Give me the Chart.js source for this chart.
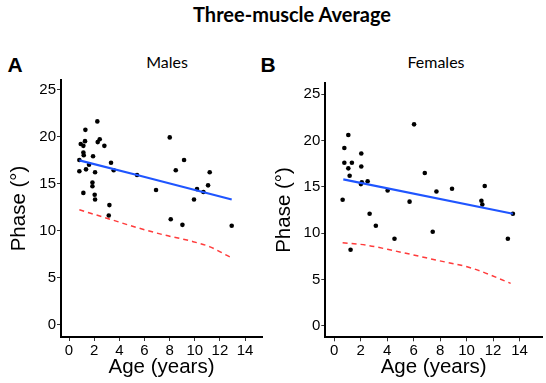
<!DOCTYPE html>
<html>
<head>
<meta charset="utf-8">
<script src="https://cdn.jsdelivr.net/npm/chart.js@4.4.1/dist/chart.umd.min.js"></script>
<style>
  html, body { margin: 0; padding: 0; background: #fff; }
  #wrap { position: relative; width: 546px; height: 383px; overflow: hidden; }
  canvas { position: absolute; }
  .lbl { position: absolute; transform: translate(-50%, -50%); white-space: nowrap; line-height: 1; color: #000; }
  .title { font: bold 20px Lato, sans-serif; }
  .panel { font: bold 21px "Liberation Sans", Arial, sans-serif; }
  .sub { font: 16px Lato, sans-serif; }
</style>
</head>
<body>
<div id="wrap">
  <div class="lbl title" style="left:292px; top:14px;">Three-muscle Average</div>
  <div class="lbl panel" style="left:15px; top:65px;">A</div>
  <div class="lbl panel" style="left:268px; top:65px;">B</div>
  <div class="lbl sub" style="left:167px; top:61px;">Males</div>
  <div class="lbl sub" style="left:436px; top:61px;">Females</div>
  <canvas id="chart-males" width="270" height="313" style="left:0; top:70px;"></canvas>
  <canvas id="chart-females" width="280" height="313" style="left:266px; top:70px;"></canvas>
</div>
<script>
// tick labels
const xTicks = [0, 2, 4, 6, 8, 10, 12, 14];
const yTicks = [0, 5, 10, 15, 20, 25];

// males: measured points (age, phase)
const maleAge = [0.82, 0.82, 0.93, 1.14, 1.30, 1.27, 1.14, 1.17, 1.35, 1.14,
  1.59, 1.91, 2.25, 2.28, 2.44, 2.07, 1.86, 1.86, 2.04, 2.07,
  2.81, 3.34, 3.55, 3.21, 3.16, 5.41, 6.92, 8.01, 8.49, 9.15,
  8.09, 9.02, 9.94, 10.18, 10.69, 11.06, 11.19, 12.94];
const malePhase = [17.5, 16.3, 19.2, 19.0, 20.7, 19.5, 18.3, 18.0, 16.5, 14.0,
  17.0, 17.9, 21.6, 19.4, 19.7, 16.2, 15.1, 14.7, 13.8, 13.3,
  19.0, 17.2, 16.4, 12.7, 11.6, 15.9, 14.3, 19.9, 16.4, 17.5,
  11.2, 10.6, 13.3, 14.4, 14.1, 14.8, 16.2, 10.5];
// males: fit line and lower bound curve
const maleFitAge = [0.82, 5.41, 12.94];
const maleFitPhase = [17.45, 15.9, 13.3];
const maleLowAge = [0.82, 3.26, 5.38, 7.5, 9.63, 11.22, 12.68, 12.94];
const maleLowPhase = [12.2, 11.2, 10.32, 9.55, 8.9, 8.26, 7.27, 7.1];

// females
const femaleAge = [0.63, 0.76, 0.76, 1.06, 1.06, 1.16, 1.33, 1.23, 2.04, 2.04,
  2.01, 2.08, 2.52, 2.67, 3.14, 4.03, 4.55, 5.69, 6.03, 6.84,
  7.44, 7.72, 8.90, 11.12, 11.19, 11.37, 13.12, 13.50];
const femalePhase = [13.6, 19.2, 17.6, 20.6, 17.0, 16.2, 17.6, 8.2, 18.6, 17.2,
  15.3, 15.5, 15.6, 12.1, 10.8, 14.6, 9.4, 13.4, 21.75, 16.5,
  10.15, 14.5, 14.8, 13.5, 13.1, 15.1, 9.4, 12.1];
const femaleFitAge = [0.68, 13.5];
const femaleFitPhase = [15.8, 12.1];
const femaleLowAge = [0.63, 2.39, 4.52, 7.67, 10.44, 13.33];
const femaleLowPhase = [8.97, 8.71, 8.1, 7.1, 6.2, 4.58];

function pairs(xs, ys) {
  return xs.map((x, i) => ({ x, y: ys[i] }));
}

function axisOpts(ticks, min, max, title, size, titlePad) {
  return {
    type: "linear",
    min,
    max,
    afterBuildTicks: (s) => { s.ticks = ticks.map((v) => ({ value: v })); },
    afterFit: (s) => {
      if (s.isHorizontal()) s.height = size;
      else s.width = size;
    },
    border: { display: true, color: "#000", width: 2 },
    grid: { drawOnChartArea: false, drawTicks: true, tickLength: 4, color: "#333" },
    ticks: {
      color: "#000",
      padding: 1,
      font: { family: "'Liberation Sans', Arial", size: 15 },
    },
    title: {
      display: true,
      text: title,
      color: "#000",
      font: { family: "'Liberation Sans', Arial", size: 20.5 },
      padding: titlePad,
    },
  };
}

function drawPanel(id, pts, fit, low, xr, yr, xh, yw, pad, titlePadX, titlePadY) {
  const ctx = document.getElementById(id).getContext("2d");
  return new Chart(ctx, {
    type: "scatter",
    data: {
      datasets: [
        {
          data: low,
          showLine: true,
          pointRadius: 0,
          borderColor: "#ff3b3b",
          borderWidth: 1.5,
          borderDash: [5, 4],
          cubicInterpolationMode: "monotone",
        },
        {
          data: fit,
          showLine: true,
          pointRadius: 0,
          borderColor: "#1f55ff",
          borderWidth: 2.2,
        },
        {
          data: pts,
          pointRadius: 2.3,
          pointBackgroundColor: "#000",
          pointBorderWidth: 0,
        },
      ],
    },
    options: {
      responsive: false,
      animation: false,
      layout: { padding: pad },
      plugins: { legend: { display: false }, tooltip: { enabled: false } },
      scales: {
        x: axisOpts(xTicks, xr[0], xr[1], "Age (years)", xh, { top: 0, bottom: titlePadX }),
        y: axisOpts(yTicks, yr[0], yr[1], "Phase (°)", yw, { top: titlePadY, bottom: 0 }),
      },
    },
  });
}

drawPanel("chart-males",
  pairs(maleAge, malePhase),
  pairs(maleFitAge, maleFitPhase),
  pairs(maleLowAge, maleLowPhase),
  [-0.64, 15.35], [-1.32, 26.0], 46, 61,
  { top: 10, right: 8, left: 0, bottom: 0 }, 3.6, 6.6);

drawPanel("chart-females",
  pairs(femaleAge, femalePhase),
  pairs(femaleFitAge, femaleFitPhase),
  pairs(femaleLowAge, femaleLowPhase),
  [-0.68, 15.7], [-1.25, 26.25], 45.7, 59.3,
  { top: 12.7, right: 3.3, left: 0, bottom: 0 }, 3.6, 5.6);
</script>
</body>
</html>
